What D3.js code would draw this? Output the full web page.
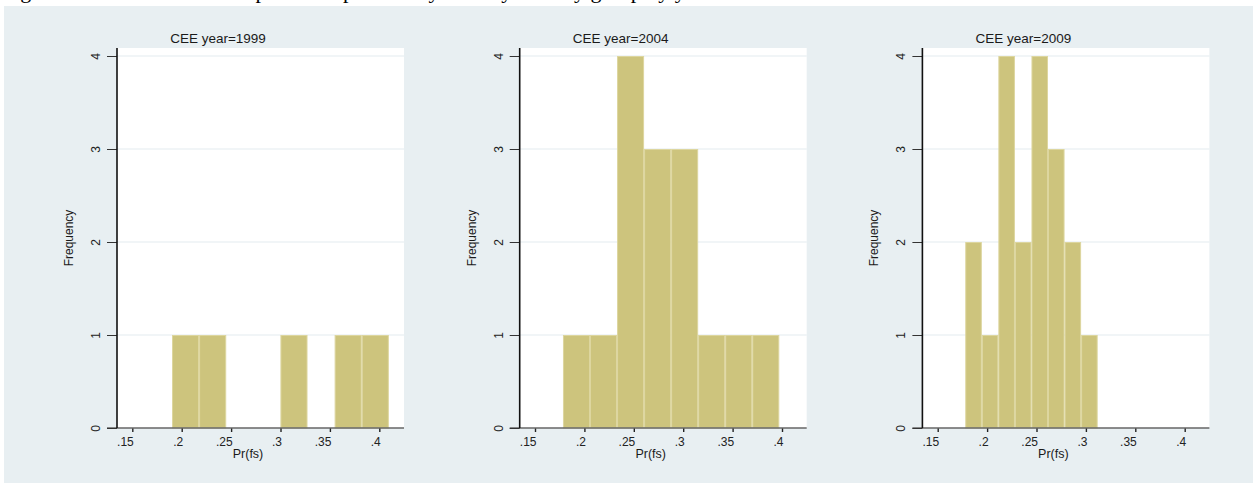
<!DOCTYPE html>
<html>
<head>
<meta charset="utf-8">
<script src="https://cdn.jsdelivr.net/npm/d3@7/dist/d3.min.js"></script>
<style>
  html, body { margin: 0; padding: 0; background: #ffffff; }
  svg { display: block; }
</style>
</head>
<body>
<svg id="chart" width="1256" height="483"></svg>
<script>
// ---- data ----
const panelTitles = ["CEE year=1999", "CEE year=2004", "CEE year=2009"];
const binStarts = [0.1902, 0.1783, 0.1779];
const binWidths = [0.02743, 0.02737, 0.01675];
const counts1999 = [1, 1, 0, 0, 1, 0, 1, 1];
const counts2004 = [1, 1, 4, 3, 3, 1, 1, 1];
const counts2009 = [2, 1, 4, 2, 4, 3, 2, 1];
const xTickValues = [0.15, 0.2, 0.25, 0.3, 0.35, 0.4];
const yTickValues = [0, 1, 2, 3, 4];
const xLabel = "Pr(fs)";
const yLabel = "Frequency";
const caption = "Figure 5: Distribution of the predicted probability of fs by country group by year";

const allCounts = [counts1999, counts2004, counts2009];

// ---- drawing ----
const svg = d3.select("#chart");
const font = "'Liberation Sans', Arial, Helvetica, sans-serif";

// caption (cut off at top, as in the reference)
svg.append("text")
  .attr("x", 2).attr("y", -2)
  .attr("font-family", "'Liberation Serif', 'Times New Roman', serif")
  .attr("font-size", 22)
  .attr("fill", "#000")
  .text(caption);

// background
svg.append("rect")
  .attr("x", 4).attr("y", 6).attr("width", 1249).attr("height", 477)
  .attr("fill", "#e8eff2");

const panelStep = 402.7;
const plotLeft = 117, plotRight = 404, plotTop = 48, plotBottom = 428;

panelTitles.forEach((title, p) => {
  const off = p * panelStep;
  const L = plotLeft + off, R = plotRight + off;
  const g = svg.append("g");

  const x = d3.scaleLinear().domain([0.13451, 0.425]).range([L, R]);
  const y = d3.scaleLinear().domain([0, 4]).range([plotBottom, 56]);

  // plot region
  g.append("rect")
    .attr("x", L).attr("y", plotTop)
    .attr("width", R - L).attr("height", plotBottom - plotTop)
    .attr("fill", "#ffffff");

  // gridlines
  g.selectAll("line.grid").data(yTickValues.filter(v => v > 0)).join("line")
    .attr("class", "grid")
    .attr("x1", L).attr("x2", R)
    .attr("y1", d => y(d)).attr("y2", d => y(d))
    .attr("stroke", "#e3ecf0").attr("stroke-width", 1.2);

  // bars
  const counts = allCounts[p];
  const bins = counts.map((c, i) => ({
    x0: binStarts[p] + i * binWidths[p],
    x1: binStarts[p] + (i + 1) * binWidths[p],
    c
  })).filter(b => b.c > 0);

  g.selectAll("rect.bar").data(bins).join("rect")
    .attr("class", "bar")
    .attr("x", d => x(d.x0) + 0.5)
    .attr("width", d => x(d.x1) - x(d.x0) - 1)
    .attr("y", d => y(d.c) + 0.5)
    .attr("height", d => y(0) - y(d.c) - 0.5)
    .attr("fill", "#cdc47d")
    .attr("stroke", "#ddd69f")
    .attr("stroke-width", 1);

  // x axis
  const xAxis = d3.axisBottom(x)
    .tickValues(xTickValues)
    .tickSize(4)
    .tickSizeOuter(0)
    .tickFormat(v => String(v).replace(/^0/, ""));
  const xg = g.append("g")
    .attr("transform", `translate(0,${plotBottom})`)
    .call(xAxis);
  xg.select(".domain").remove();
  xg.selectAll(".tick line").attr("stroke", "#222").attr("stroke-width", 1.4);
  xg.selectAll(".tick text")
    .attr("font-family", font).attr("font-size", 12)
    .attr("fill", "#222")
    .attr("text-anchor", "end")
    .attr("x", 1).attr("y", 18).attr("dy", 0);
  g.append("line")
    .attr("x1", L - 10).attr("x2", R)
    .attr("y1", plotBottom).attr("y2", plotBottom)
    .attr("stroke", "#666").attr("stroke-width", 1.3);

  // y axis
  const yAxis = d3.axisLeft(y)
    .tickValues(yTickValues)
    .tickSize(10)
    .tickSizeOuter(0)
    .tickFormat(d3.format("d"));
  const yg = g.append("g")
    .attr("transform", `translate(${L},0)`)
    .call(yAxis);
  yg.select(".domain").remove();
  yg.selectAll(".tick line").attr("stroke", "#333").attr("stroke-width", 1);
  yg.selectAll(".tick text")
    .attr("font-family", font).attr("font-size", 12)
    .attr("fill", "#222")
    .attr("text-anchor", "middle")
    .attr("x", 0).attr("dy", 0)
    .attr("transform", "translate(-17,0) rotate(-90)");
  g.append("line")
    .attr("x1", L).attr("x2", L)
    .attr("y1", plotTop).attr("y2", plotBottom)
    .attr("stroke", "#111").attr("stroke-width", 1.6);

  // title
  g.append("text")
    .attr("x", L - plotLeft + 218).attr("y", 43)
    .attr("text-anchor", "middle")
    .attr("font-family", font).attr("font-size", 13.5)
    .attr("fill", "#1a1a1a")
    .text(title);

  // x label
  g.append("text")
    .attr("x", L + 131).attr("y", 458)
    .attr("text-anchor", "middle")
    .attr("font-family", font).attr("font-size", 12.5)
    .attr("fill", "#1a1a1a")
    .text(xLabel);

  // y label
  g.append("text")
    .attr("transform", `translate(${L - 44},${(plotTop + plotBottom) / 2}) rotate(-90)`)
    .attr("text-anchor", "middle")
    .attr("font-family", font).attr("font-size", 12)
    .attr("fill", "#1a1a1a")
    .text(yLabel);
});
</script>
</body>
</html>
